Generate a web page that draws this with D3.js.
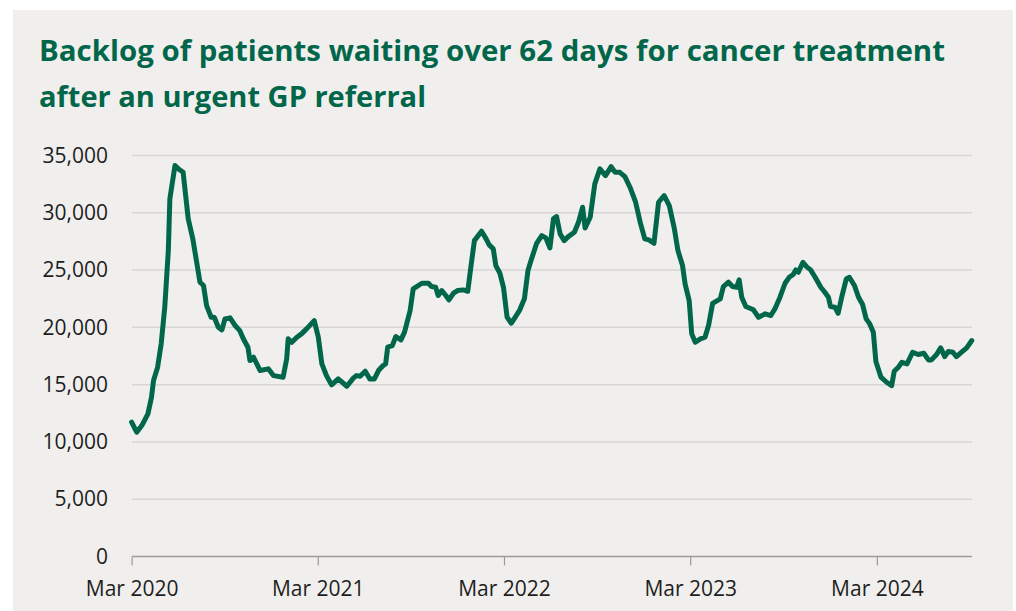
<!DOCTYPE html>
<html>
<head>
<meta charset="utf-8">
<script src="https://cdn.jsdelivr.net/npm/d3@7"></script>
<style>
  body { margin: 0; background: #fff; }
  svg { display: block; }
</style>
</head>
<body>
<svg id="chart" width="1016" height="611"></svg>
<script>
// backlog readings (date, patients waiting over 62 days)
const dates = [
  "2020-03-01","2020-03-11","2020-03-21","2020-04-02","2020-04-09","2020-04-13","2020-04-21","2020-04-28",
  "2020-05-05","2020-05-12","2020-05-15","2020-05-25","2020-06-01","2020-06-10","2020-06-20","2020-06-29",
  "2020-07-13","2020-07-20","2020-07-26","2020-08-04","2020-08-10","2020-08-18","2020-08-25","2020-08-31",
  "2020-09-10","2020-09-20","2020-09-29","2020-10-06","2020-10-15","2020-10-19","2020-10-26","2020-11-08",
  "2020-11-24","2020-12-04","2020-12-23","2020-12-30","2021-01-02","2021-01-09","2021-01-19","2021-01-28",
  "2021-02-07","2021-02-22","2021-03-02","2021-03-09","2021-03-18","2021-03-28","2021-04-10","2021-04-27",
  "2021-05-10","2021-05-16","2021-05-23","2021-06-02","2021-06-11","2021-06-20","2021-06-28","2021-07-07",
  "2021-07-12","2021-07-16","2021-07-25","2021-08-01","2021-08-11","2021-08-18","2021-08-29","2021-09-04",
  "2021-09-21","2021-10-04","2021-10-10","2021-10-18","2021-10-23","2021-10-30","2021-11-07","2021-11-13",
  "2021-11-22","2021-11-30","2021-12-11","2021-12-20","2021-12-26","2022-01-02","2022-01-16","2022-01-25",
  "2022-01-31","2022-02-08","2022-02-13","2022-02-21","2022-02-28","2022-03-07","2022-03-15","2022-03-23",
  "2022-04-01","2022-04-10","2022-04-17","2022-04-23","2022-05-04","2022-05-14","2022-05-22","2022-05-30",
  "2022-06-06","2022-06-12","2022-06-19","2022-06-27","2022-07-05","2022-07-17","2022-07-25","2022-08-02",
  "2022-08-07","2022-08-17","2022-08-26","2022-09-05","2022-09-16","2022-09-27","2022-10-05","2022-10-14",
  "2022-10-24","2022-11-03","2022-11-14","2022-11-23","2022-12-02","2022-12-10","2022-12-20","2022-12-29",
  "2023-01-09","2023-01-19","2023-01-29","2023-02-05","2023-02-14","2023-02-19","2023-02-27","2023-03-04",
  "2023-03-11","2023-03-21","2023-03-30","2023-04-06","2023-04-14","2023-04-29","2023-05-05","2023-05-15",
  "2023-05-23","2023-05-31","2023-06-05","2023-06-10","2023-06-18","2023-07-03","2023-07-13","2023-07-26",
  "2023-08-06","2023-08-14","2023-08-24","2023-09-03","2023-09-11","2023-09-19","2023-09-24","2023-09-29",
  "2023-10-08","2023-10-15","2023-10-23","2023-11-01","2023-11-12","2023-11-20","2023-11-27","2023-12-01",
  "2023-12-10","2023-12-16","2023-12-23","2024-01-01","2024-01-07","2024-01-17","2024-01-25","2024-02-02",
  "2024-02-09","2024-02-16","2024-02-23","2024-02-28","2024-03-09","2024-03-20","2024-03-30","2024-04-04",
  "2024-04-12","2024-04-19","2024-04-29","2024-05-10","2024-05-21","2024-06-01","2024-06-10","2024-06-16",
  "2024-06-26","2024-07-04","2024-07-12","2024-07-19","2024-07-28","2024-08-04","2024-08-14","2024-08-24",
  "2024-09-03"
];
const backlog = [
  11720,10850,11430,12450,13900,15360,16520,18560,
  21750,26700,31210,34120,33830,33530,29470,27720,
  23940,23650,21900,20880,20880,20010,19780,20740,
  20830,20160,19720,19000,18270,17100,17390,16230,
  16380,15790,15650,17250,19000,18700,19140,19430,
  19870,20590,19140,16810,15790,14980,15500,14860,
  15590,15790,15730,16170,15500,15500,16230,16670,
  16810,18270,18410,19200,18910,19580,21470,23360,
  23850,23850,23560,23500,22780,23210,22780,22400,
  22980,23210,23270,23150,25250,27570,28390,27720,
  27200,26850,25390,24720,23500,20900,20360,20880,
  21530,22490,24960,25830,27340,28010,27810,26940,
  29470,29670,28160,27570,27920,28300,29170,30480,
  28680,29610,32520,33830,33250,34030,33530,33530,
  33160,32230,30920,29170,27720,27640,27340,30920,
  31500,30630,28600,26700,25390,23800,22340,19430,
  18700,19000,19140,20160,22100,22490,23560,23940,
  23560,23500,24140,22630,21820,21530,20880,21180,
  21030,21610,22630,23850,24370,24610,25020,24810,
  25680,25300,25020,24370,23500,23060,22630,21820,
  21750,21230,22630,24230,24370,23650,22630,21990,
  20740,20300,19580,17020,15650,15210,14920,16170,
  16520,16950,16810,17830,17630,17740,17160,17160,
  17630,18210,17450,17890,17830,17450,17830,18210,
  18850
];
const yTicks = [0, 5000, 10000, 15000, 20000, 25000, 30000, 35000];
const xTicks = ["2020-03-01", "2021-03-01", "2022-03-01", "2023-03-01", "2024-03-01"];
const titleLines = [
  "Backlog of patients waiting over 62 days for cancer treatment",
  "after an urgent GP referral"
];
const titleWidths = [906, 387];

const green = "#02674a";
const parse = d3.timeParse("%Y-%m-%d");
const points = dates.map((d, i) => ({ date: parse(d), value: backlog[i] }));

const svg = d3.select("#chart");

svg.append("rect")
  .attr("x", 13).attr("y", 10)
  .attr("width", 1000).attr("height", 601)
  .attr("fill", "#f0efed");

svg.append("g")
  .selectAll("text")
  .data(titleLines)
  .join("text")
  .attr("x", 39)
  .attr("y", (d, i) => 61 + i * 46)
  .attr("fill", green)
  .attr("font-family", "'Open Sans', Lato, sans-serif")
  .attr("font-weight", 700)
  .attr("font-size", 28)
  .attr("textLength", (d, i) => titleWidths[i])
  .attr("lengthAdjust", "spacingAndGlyphs")
  .text(d => d);

const x = d3.scaleTime()
  .domain([parse("2020-03-01"), parse("2024-03-01")])
  .range([131.6, 876.9]);
const y = d3.scaleLinear().domain([0, 35000]).range([556.5, 155.5]);

// gridlines
svg.append("g")
  .selectAll("line")
  .data(yTicks.filter(t => t > 0))
  .join("line")
  .attr("x1", 132).attr("x2", 972)
  .attr("y1", d => y(d)).attr("y2", d => y(d))
  .attr("stroke", "#d8d6d4")
  .attr("stroke-width", 1.5);

// y axis labels
const yAxis = svg.append("g")
  .attr("transform", "translate(110,0)")
  .call(d3.axisLeft(y).tickValues(yTicks).tickSize(0).tickPadding(2).tickFormat(d3.format(",")));
yAxis.select(".domain").remove();
yAxis.selectAll("text")
  .attr("font-family", "'Open Sans', sans-serif")
  .attr("font-size", 21)
  .attr("fill", "#1e1e1e");

// x axis
const xAxis = svg.append("g")
  .attr("transform", `translate(0,${y(0)})`)
  .call(d3.axisBottom(x).tickValues(xTicks.map(parse)).tickSize(9).tickPadding(16)
    .tickFormat(d3.timeFormat("%b %Y")));
xAxis.select(".domain")
  .attr("d", `M132,0H972`)
  .attr("stroke", "#9d9b99")
  .attr("stroke-width", 1.5);
xAxis.selectAll(".tick line").attr("stroke", "#9d9b99").attr("stroke-width", 1.2);
xAxis.selectAll("text")
  .attr("font-family", "'Open Sans', sans-serif")
  .attr("font-size", 21)
  .attr("fill", "#1e1e1e");

// backlog line
svg.append("path")
  .datum(points)
  .attr("fill", "none")
  .attr("stroke", green)
  .attr("stroke-width", 5)
  .attr("stroke-linejoin", "round")
  .attr("stroke-linecap", "round")
  .attr("d", d3.line().x(d => x(d.date)).y(d => y(d.value)));
</script>
</body>
</html>
